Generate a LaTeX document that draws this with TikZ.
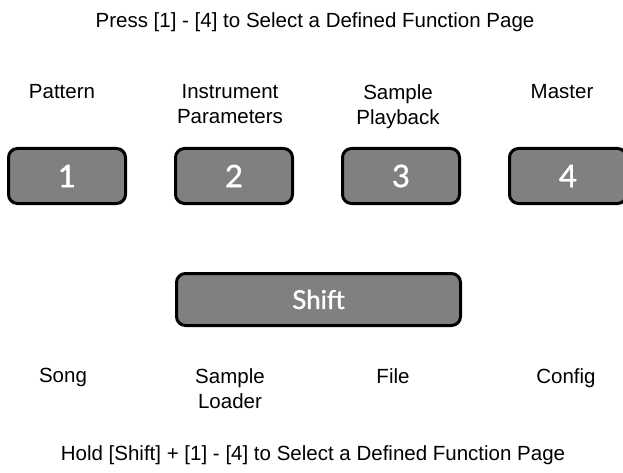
\documentclass[tikz,border=0pt]{standalone}
\usepackage{fontspec}
\setmainfont{Liberation Sans}
\newfontfamily\keyfont[FakeBold=1.2]{Lato}
\definecolor{keygray}{RGB}{128,128,128}
\begin{document}
\begin{tikzpicture}[x=1pt,y=-1pt,
    key/.style={draw,line width=3pt,rounded corners=9pt,fill=keygray,text=white,inner sep=0,minimum height=55pt},
    page/.style={anchor=north,align=center,inner sep=0,font=\fontsize{20.5}{25}\selectfont}]
    \clip (0,0) rectangle (623,473);

    \node at (315,12) [page] (press) {Press [1] - [4] to Select a Defined Function Page};

    \node at (62,84) [page] (pattern) {Pattern};
    \node at (230,84) [page] (instrument) {Instrument\\Parameters};
    \node at (398,84) [page] (playback) {Sample\\Playback};
    \node at (562,84) [page] (master) {Master};

    \node at (67,176) [key,minimum width=117pt,font=\keyfont\fontsize{31}{31}\selectfont] (key1) {1};
    \node at (234,176) [key,minimum width=117pt,font=\keyfont\fontsize{31}{31}\selectfont] (key2) {2};
    \node at (401,176) [key,minimum width=117pt,font=\keyfont\fontsize{31}{31}\selectfont] (key3) {3};
    \node at (568,176) [key,minimum width=117pt,font=\keyfont\fontsize{31}{31}\selectfont] (key4) {4};

    \node at (318.5,299.5) [key,minimum width=284pt,minimum height=52pt,font=\keyfont\fontsize{26}{26}\selectfont] (shift) {Shift};

    \node at (63,368) [page] (song) {Song};
    \node at (230,368) [page] (loader) {Sample\\Loader};
    \node at (393,368) [page] (file) {File};
    \node at (566,368) [page] (config) {Config};

    \node at (313,445) [page] (hold) {Hold [Shift] + [1] - [4] to Select a Defined Function Page};
\end{tikzpicture}
\end{document}
